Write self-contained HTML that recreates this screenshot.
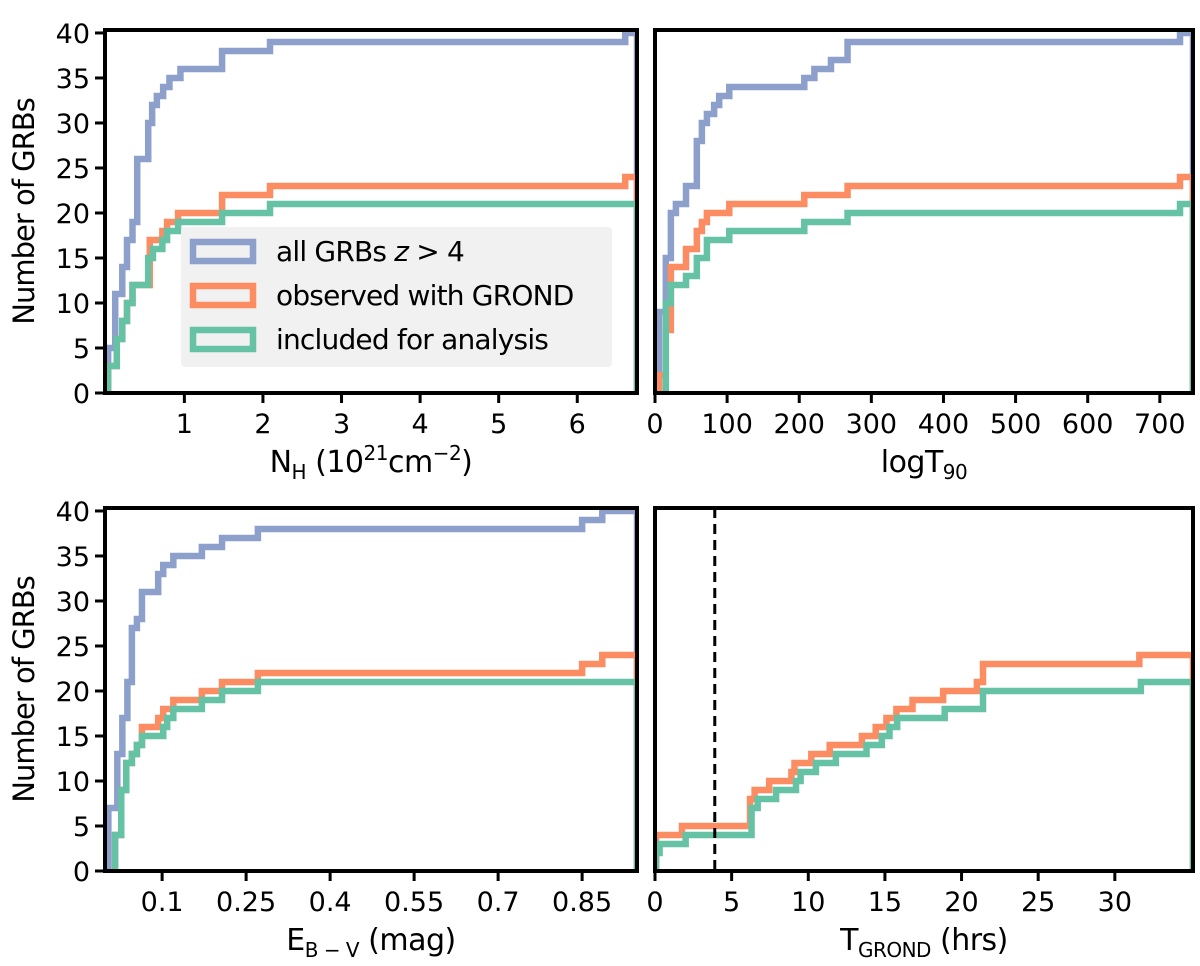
<!DOCTYPE html>
<html><head><meta charset="utf-8"><style>
body{margin:0;background:#fff;}
svg{display:block;font-family:"DejaVu Sans","Liberation Sans",sans-serif;}
</style></head><body>
<svg id="fig" width="1200" height="966" viewBox="0 0 1200 966"></svg>
<script>
// ---- data (x breakpoint, cumulative count) ----
const nhBlueX=[0.03,0.12,0.21,0.27,0.34,0.40,0.54,0.59,0.65,0.73,0.81,0.95,1.48,2.09,6.61];
const nhBlueY=[5,11,14,17,19,26,30,32,33,34,35,36,38,39,40];
const nhOrangeX=[0.03,0.14,0.21,0.27,0.34,0.56,0.72,0.78,0.92,1.48,2.09,6.61];
const nhOrangeY=[3,6,8,10,12,17,18,19,20,22,23,24];
const nhGreenX=[0.03,0.14,0.21,0.27,0.34,0.54,0.60,0.72,0.78,0.92,1.48,2.09];
const nhGreenY=[3,6,8,10,12,15,16,17,18,19,20,21];

const tBlueX=[5.5,15,22,29,43,58,65,72,82,89,103,207,221,244,267,728];
const tBlueY=[9,15,20,21,23,28,30,31,32,33,34,35,36,37,39,40];
const tOrangeX=[5.5,15,22,43,58,65,72,103,207,267,728];
const tOrangeY=[2,7,14,16,18,19,20,21,22,23,24];
const tGreenX=[15,22,43,58,72,103,207,267,728];
const tGreenY=[10,12,13,15,17,18,19,20,21];

const eBlueX=[0.004,0.02,0.029,0.038,0.046,0.055,0.064,0.093,0.102,0.120,0.171,0.207,0.271,0.850,0.886];
const eBlueY=[7,13,17,21,27,28,31,33,34,35,36,37,38,39,40];
const eOrangeX=[0.016,0.027,0.036,0.046,0.055,0.064,0.093,0.102,0.120,0.171,0.207,0.271,0.850,0.886];
const eOrangeY=[4,9,12,13,14,16,17,18,19,20,21,22,23,24];
const eGreenX=[0.016,0.027,0.036,0.046,0.055,0.064,0.102,0.109,0.120,0.171,0.207,0.271];
const eGreenY=[4,9,12,13,14,15,16,17,18,19,20,21];

const gOrangeX=[0.07,1.76,6.2,6.5,7.45,8.9,9.1,10.2,11.4,13.5,14.4,15.1,15.75,16.8,18.8,21.0,21.4,31.6];
const gOrangeY=[4,5,8,9,10,11,12,13,14,15,16,17,18,19,20,21,23,24];
const gGreenX=[0.07,0.3,2.0,6.3,6.7,7.9,9.2,9.5,10.5,11.8,13.8,14.8,15.3,15.8,18.9,21.4,31.7];
const gGreenY=[2,3,4,7,8,9,10,11,12,13,14,15,16,17,18,20,21];

const nhTicks=[1,2,3,4,5,6];
const tTicks=[0,100,200,300,400,500,600,700];
const eTicks=[0.1,0.25,0.4,0.55,0.7,0.85];
const eTickLabels=["0.1","0.25","0.4","0.55","0.7","0.85"];
const gTicks=[0,5,10,15,20,25,30];
const yTicks=[0,5,10,15,20,25,30,35,40];

const BLUE="#8da0cb",ORANGE="#fc8d62",GREEN="#66c2a5";
const NS="http://www.w3.org/2000/svg";
const svg=document.getElementById('fig');
function mk(tag,attrs,parent){const e=document.createElementNS(NS,tag);for(const k in attrs)e.setAttribute(k,attrs[k]);(parent||svg).appendChild(e);return e;}

function panel(p){
  const g=mk('g',{});
  
  
  const sx=v=>p.x0+(v-p.xmin)/(p.xmax-p.xmin)*(p.x1-p.x0);
  const sy=v=>p.y1-(v-0)/(40.33)*(p.y1-p.y0);
  const clipId='c'+p.name;
  const cp=mk('clipPath',{id:clipId},g);
  mk('rect',{x:p.x0,y:p.y0-4,width:p.x1-p.x0,height:p.y1-p.y0+4},cp);
  const sg=mk('g',{'clip-path':'url(#'+clipId+')'},g);
  p.series.forEach(s=>{
    let d='M'+sx(s.xs[0])+','+sy(0);
    for(let i=0;i<s.xs.length;i++){
      const nx=i+1<s.xs.length?sx(s.xs[i+1]):sx(p.xmax);
      d+=' L'+sx(s.xs[i])+','+sy(s.ys[i])+' L'+nx+','+sy(s.ys[i]);
    }
    d+=' L'+sx(p.xmax)+','+sy(0);
    const path=mk('path',{d:d,fill:'none',stroke:s.c,'stroke-width':6.5,'stroke-linejoin':'miter'},sg);
    
    
  });
  if(p.vline!==undefined){
    const l=mk('line',{x1:sx(p.vline),x2:sx(p.vline),y1:p.y0,y2:p.y1,stroke:'#000','stroke-width':3,'stroke-dasharray':'10,6'},g);
    
    
  }
  const fr=mk('rect',{x:p.x0,y:p.y0,width:p.x1-p.x0,height:p.y1-p.y0,fill:'none',stroke:'#000','stroke-width':4},g);
  
  
  p.xt.forEach((v,i)=>{
    const x=sx(v);
    mk('line',{x1:x,x2:x,y1:p.y1,y2:p.y1+10,stroke:'#000','stroke-width':3},g);
    const t=mk('text',{x:x,y:p.y1+40,'text-anchor':'middle','font-size':27},g);
    t.textContent=p.xl?p.xl[i]:String(v);
    
    
  });
  if(p.ylab){
    yTicks.forEach(v=>{
      const y=sy(v);
      mk('line',{x1:p.x0-10,x2:p.x0,y1:y,y2:y,stroke:'#000','stroke-width':3},g);
      const t=mk('text',{x:p.x0-15,y:y+10,'text-anchor':'end','font-size':27},g);
      t.textContent=String(v);
      
      
    });
    const yl=mk('text',{x:0,y:0,'text-anchor':'middle','font-size':29,'letter-spacing':'-1',transform:'translate(34,'+((p.y0+p.y1)/2)+') rotate(-90)'},g);
    yl.textContent='Number of GRBs';
    
    
  }
  const xl=mk('text',{x:(p.x0+p.x1)/2,y:p.y1+79,'text-anchor':'middle','font-size':30,'letter-spacing':'-0.5'},g);
  xl.innerHTML=p.title;
  
  
}

panel({name:'panel-nh',x0:105,x1:637,y0:30,y1:393,xmin:-0.01,xmax:6.76,xt:nhTicks,ylab:true,
  title:'N<tspan font-size="20" dy="7">H</tspan><tspan dy="-7"> (10</tspan><tspan font-size="20" dy="-12">21</tspan><tspan dy="12">cm</tspan><tspan font-size="20" dy="-12">−2</tspan><tspan dy="12">)</tspan>',
  series:[{xs:nhBlueX,ys:nhBlueY,c:BLUE,n:'all-grbs-line'},{xs:nhOrangeX,ys:nhOrangeY,c:ORANGE,n:'grond-line'},{xs:nhGreenX,ys:nhGreenY,c:GREEN,n:'analysis-line'}]});
panel({name:'panel-t90',x0:655,x1:1193,y0:30,y1:393,xmin:0,xmax:746,xt:tTicks,ylab:false,
  title:'logT<tspan font-size="20" dy="7">90</tspan>',
  series:[{xs:tBlueX,ys:tBlueY,c:BLUE,n:'all-grbs-line'},{xs:tOrangeX,ys:tOrangeY,c:ORANGE,n:'grond-line'},{xs:tGreenX,ys:tGreenY,c:GREEN,n:'analysis-line'}]});
panel({name:'panel-ebv',x0:105,x1:637,y0:508,y1:871,xmin:-0.002,xmax:0.948,xt:eTicks,xl:eTickLabels,ylab:true,
  title:'E<tspan font-size="20" dy="7">B − V</tspan><tspan dy="-7"> (mag)</tspan>',
  series:[{xs:eBlueX,ys:eBlueY,c:BLUE,n:'all-grbs-line'},{xs:eOrangeX,ys:eOrangeY,c:ORANGE,n:'grond-line'},{xs:eGreenX,ys:eGreenY,c:GREEN,n:'analysis-line'}]});
panel({name:'panel-tgrond',x0:655,x1:1193,y0:508,y1:871,xmin:0,xmax:35.1,xt:gTicks,ylab:false,vline:3.9,
  title:'T<tspan font-size="20" dy="7">GROND</tspan><tspan dy="-7"> (hrs)</tspan>',
  series:[{xs:gOrangeX,ys:gOrangeY,c:ORANGE,n:'grond-line'},{xs:gGreenX,ys:gGreenY,c:GREEN,n:'analysis-line'}]});

// legend
const lg=mk('g',{});


mk('rect',{x:181,y:227,width:431,height:140,rx:4,fill:'#f0f0f0','fill-opacity':0.95},lg);
const legC=[BLUE,ORANGE,GREEN];
const legT=['all GRBs <tspan font-style="italic">z</tspan> &gt; 4','observed with GROND','included for analysis'];
const legY=[251,295,339];
for(let i=0;i<3;i++){
  const r=mk('rect',{x:193,y:legY[i]-9,width:60,height:19,fill:'none',stroke:legC[i],'stroke-width':6.5},lg);
  
  
  const t=mk('text',{x:276,y:legY[i]+10,'font-size':28,'letter-spacing':'-0.8'},lg);
  t.innerHTML=legT[i];
  
  
}
</script>
</body></html>
